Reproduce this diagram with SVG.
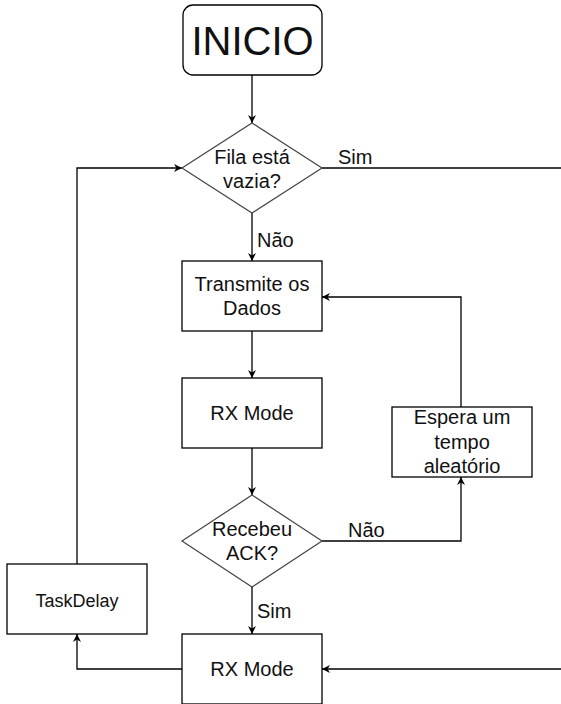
<svg xmlns="http://www.w3.org/2000/svg" width="561" height="704" viewBox="0 0 561 704">
<defs>
<marker id="arr" viewBox="0 0 10 10" refX="10" refY="5" markerWidth="8" markerHeight="8" markerUnits="userSpaceOnUse" orient="auto">
<path d="M0,0 L10,5 L0,10 L3,5 Z" fill="#000"/>
</marker>
<style>
.box{fill:#fff;stroke:#000;stroke-width:1.3}
.dia{fill:#fff;stroke:#444;stroke-width:1.2}
.t{font-family:"Liberation Sans",Arial,sans-serif;font-size:20px;fill:#111;text-anchor:middle}
.l{font-family:"Liberation Sans",Arial,sans-serif;font-size:20px;fill:#111}
.c{fill:none;stroke:#000;stroke-width:1.3}
.ca{fill:none;stroke:#000;stroke-width:1.3;marker-end:url(#arr)}
</style>
</defs>
<rect width="561" height="704" fill="#fff"/>
<g id="connectors">
<path class="ca" d="M252,75 L252,123"/>
<path class="ca" d="M252,213 L252,261"/>
<path class="c" d="M322,168 L561,168"/>
<path class="ca" d="M561,669 L322,669"/>
<path class="ca" d="M252,331 L252,378"/>
<path class="ca" d="M252,448 L252,495"/>
<path class="ca" d="M322,541 L461,541 L461,477"/>
<path class="ca" d="M461,407 L461,297 L322,297"/>
<path class="ca" d="M252,587 L252,634"/>
<path class="ca" d="M182,669 L77,669 L77,634"/>
<path class="ca" d="M77,564 L77,168 L182,168"/>
<text class="l" x="338" y="164">Sim</text>
<text class="l" x="257" y="247">Não</text>
<text class="l" x="348" y="537">Não</text>
<text class="l" x="257" y="618">Sim</text>
</g>
<g id="inicio">
<rect class="box" x="183" y="5" width="139" height="70" rx="10" ry="10"/>
<text class="t" x="252.5" y="55" style="font-size:40px">INICIO</text>
</g>
<g id="fila">
<polygon class="dia" points="252,123 322,168 252,213 182,168"/>
<text class="t" x="252" y="164">Fila está</text>
<text class="t" x="252" y="188">vazia?</text>
</g>
<g id="transmite">
<rect class="box" x="182" y="261" width="140" height="70"/>
<text class="t" x="252" y="291">Transmite os</text>
<text class="t" x="252" y="315">Dados</text>
</g>
<g id="rxmode1">
<rect class="box" x="182" y="378" width="140" height="70"/>
<text class="t" x="252" y="420">RX Mode</text>
</g>
<g id="espera">
<rect class="box" x="392" y="407" width="140" height="70"/>
<text class="t" x="462" y="424">Espera um</text>
<text class="t" x="462" y="449">tempo</text>
<text class="t" x="462" y="473">aleatório</text>
</g>
<g id="recebeu">
<polygon class="dia" points="252,495 322,541 252,587 182,541"/>
<text class="t" x="252" y="536">Recebeu</text>
<text class="t" x="252" y="560">ACK?</text>
</g>
<g id="rxmode2">
<rect class="box" x="182" y="634" width="140" height="70"/>
<text class="t" x="252" y="676">RX Mode</text>
</g>
<g id="taskdelay">
<rect class="box" x="7" y="564" width="140" height="70"/>
<text class="t" x="77" y="607" style="font-size:18px">TaskDelay</text>
</g>
</svg>
